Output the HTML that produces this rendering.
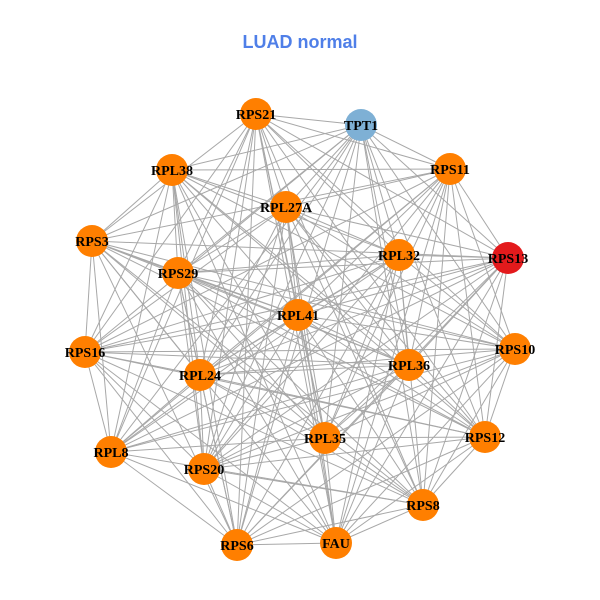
<!DOCTYPE html>
<html><head><meta charset="utf-8"><style>
html,body{margin:0;padding:0;background:#fff;}
svg{display:block}
</style></head><body>
<svg id="g" width="600" height="600" xmlns="http://www.w3.org/2000/svg">
<rect width="600" height="600" fill="#fff"/>
<text x="300" y="48" text-anchor="middle" font-family="Liberation Sans, sans-serif" font-weight="bold" font-size="18" fill="#4f7fe8">LUAD normal</text>
<g id="edges" stroke="#a8a8a8" stroke-width="1"></g>
<g id="nodes"></g>
<g font-family="Liberation Serif, serif" font-weight="bold" font-size="14" text-anchor="middle" fill="#000">
<text x="256" y="119">RPS21</text>
<text x="361" y="130">TPT1</text>
<text x="172" y="175">RPL38</text>
<text x="450" y="174">RPS11</text>
<text x="286" y="212">RPL27A</text>
<text x="92" y="246">RPS3</text>
<text x="399" y="260">RPL32</text>
<text x="508" y="263">RPS13</text>
<text x="178" y="278">RPS29</text>
<text x="298" y="320">RPL41</text>
<text x="85" y="357">RPS16</text>
<text x="515" y="354">RPS10</text>
<text x="200" y="380">RPL24</text>
<text x="409" y="370">RPL36</text>
<text x="325" y="443">RPL35</text>
<text x="485" y="442">RPS12</text>
<text x="111" y="457">RPL8</text>
<text x="204" y="474">RPS20</text>
<text x="423" y="510">RPS8</text>
<text x="237" y="550">RPS6</text>
<text x="336" y="548">FAU</text>
</g>
</svg>
<script>
var N=[[256,114,'#ff7f00'],[361,125,'#7eb0d5'],[172,170,'#ff7f00'],[450,169,'#ff7f00'],[286,207,'#ff7f00'],[92,241,'#ff7f00'],[399,255,'#ff7f00'],[508,258,'#e31a1c'],[178,273,'#ff7f00'],[298,315,'#ff7f00'],[85,352,'#ff7f00'],[515,349,'#ff7f00'],[200,375,'#ff7f00'],[409,365,'#ff7f00'],[325,438,'#ff7f00'],[485,437,'#ff7f00'],[111,452,'#ff7f00'],[204,469,'#ff7f00'],[423,505,'#ff7f00'],[237,545,'#ff7f00'],[336,543,'#ff7f00']];
var ns='http://www.w3.org/2000/svg',E=document.getElementById('edges'),G=document.getElementById('nodes');
for(var i=0;i<N.length;i++)for(var j=i+1;j<N.length;j++){
 if(((i*73+j*151+i*j*37)%11)==5)continue;
 var l=document.createElementNS(ns,'line');
 l.setAttribute('x1',N[i][0]);l.setAttribute('y1',N[i][1]);l.setAttribute('x2',N[j][0]);l.setAttribute('y2',N[j][1]);E.appendChild(l);}
for(var i=0;i<N.length;i++){var c=document.createElementNS(ns,'circle');
 c.setAttribute('cx',N[i][0]);c.setAttribute('cy',N[i][1]);c.setAttribute('r',16);c.setAttribute('fill',N[i][2]);G.appendChild(c);}
</script>
</body></html>
